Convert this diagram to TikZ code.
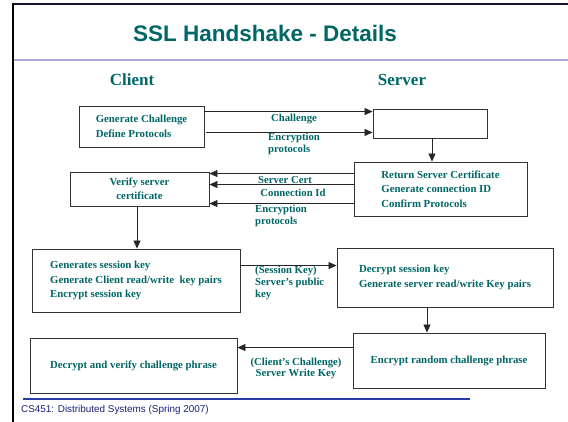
\documentclass[tikz,border=0pt]{standalone}
\usepackage{fontspec}
\setmainfont{Liberation Serif}
\newfontfamily\headfont{Liberation Sans}
\usepackage{tikz}
\usetikzlibrary{arrows.meta}
\definecolor{tealc}{RGB}{0,102,102}
\definecolor{framec}{RGB}{20,20,45}
\definecolor{rulec}{RGB}{170,170,210}
\definecolor{footc}{RGB}{40,60,170}
\definecolor{foottext}{RGB}{25,35,120}
\tikzset{
  box/.style ={draw=black!80,line width=0.9pt,fill=white,inner sep=0pt,align=left,
               text=tealc,font=\bfseries\fontsize{10.8}{14.5}\selectfont},
  lbl/.style ={inner sep=0pt,text=tealc,font=\bfseries\fontsize{10.7}{11.8}\selectfont},
  side/.style={inner sep=0pt,text=tealc,font=\bfseries\fontsize{17}{20}\selectfont},
  ar/.style  ={-{Triangle[length=8pt,width=7pt]},line width=0.8pt,draw=black!85},
}

\begin{document}
\begin{tikzpicture}[x=1pt,y=-1pt]
  \useasboundingbox (0,0) rectangle (568,422);
  \fill[white] (0,0) rectangle (568,422);
  % slide frame
  \draw[framec,line width=2.2pt] (12.5,4) -- (568,4);
  \draw[black,line width=2pt] (12.5,3) -- (12.5,422);
  \draw[rulec,line width=1.5pt] (13.5,60) -- (568,60);
  \node[inner sep=0pt,text=tealc,font=\headfont\bfseries\fontsize{22.5}{26}\selectfont] (title) at (265,33) {SSL Handshake - Details};
  \node[side] (client) at (132,80) {Client};
  \node[side] (server) at (402,80) {Server};

  % boxes
  \node[box,minimum width=125pt,minimum height=41pt] (gen) at (141.5,126.5) {Generate Challenge\\Define Protocols};
  \node[box,minimum width=114pt,minimum height=29pt] (srvA) at (430,123.5) {};
  \node[box,minimum width=173pt,minimum height=54pt] (srvB) at (440.5,189) {Return Server Certificate\\Generate connection ID\\Confirm Protocols};
  \node[box,align=center,minimum width=139pt,minimum height=34pt] (verify) at (139.5,189) {Verify server\\certificate};
  \node[box,minimum width=208pt,minimum height=63pt] (sess) at (136,280.5) {Generates session key\\Generate Client read/write~ key pairs\\Encrypt session key};
  \node[box,minimum width=216pt,minimum height=59pt] (decr) at (445,277.5) {Decrypt session key\\Generate server read/write Key pairs};
  \node[box,minimum width=192pt,minimum height=55pt] (enc) at (449,360.5) {Encrypt random challenge phrase};
  \node[box,minimum width=207pt,minimum height=55pt] (dver) at (133.5,365.5) {Decrypt and verify challenge phrase};

  % messages
  \draw[ar] ([yshift=-6pt]gen.north east) -- ([yshift=-3pt]srvA.north west);
  \draw[ar] ([shift={(2pt,15pt)}]gen.south east) -- ([yshift=6pt]srvA.south west);
  \draw[ar] ([xshift=2pt]srvA.south) coordinate (d1) -- (d1 |- srvB.north);
  \draw[ar] ([yshift=-12pt]srvB.north west) -- ([yshift=-2pt]verify.north east);
  \draw[ar] ([yshift=-23pt]srvB.north west) -- ([yshift=-13pt]verify.north east);
  \draw[ar] ([yshift=-42pt]srvB.north west) -- ([yshift=-32pt]verify.north east);
  \draw[ar] ([xshift=-2.5pt]verify.south) coordinate (d2) -- (d2 |- sess.north);
  \draw[ar] ([yshift=-17pt]sess.north east) -- ([yshift=-18pt]decr.north west);
  \draw[ar] ([xshift=-18pt]decr.south) coordinate (d3) -- (d3 |- enc.north);
  \draw[ar] ([yshift=-15pt]enc.north west) -- ([yshift=-10pt]dver.north east);

  % labels
  \node[lbl] (lchal) at (294,119) {Challenge};
  \node[lbl,anchor=west,align=left] (lenc1) at (268,144) {Encryption\\protocols};
  \node[lbl] (lcert) at (285,180) {Server Cert};
  \node[lbl] (lconn) at (293,193) {Connection Id};
  \node[lbl,anchor=west,align=left] (lenc2) at (255,216) {Encryption\\protocols};
  \node[lbl,anchor=west,align=left] (lkey) at (255,283) {(Session Key)\\Server's public\\key};
  \node[lbl,align=center] (lcli) at (296,368.5) {(Client's Challenge)\\Server Write Key};

  % footer
  \draw[footc,line width=1.5pt] (23,399) -- (470,399);
  \node[anchor=west,inner sep=0pt,text=foottext,font=\headfont\fontsize{9.9}{11}\selectfont] (foot) at (21,410) {CS451: Distributed Systems (Spring 2007)};
\end{tikzpicture}
\end{document}
